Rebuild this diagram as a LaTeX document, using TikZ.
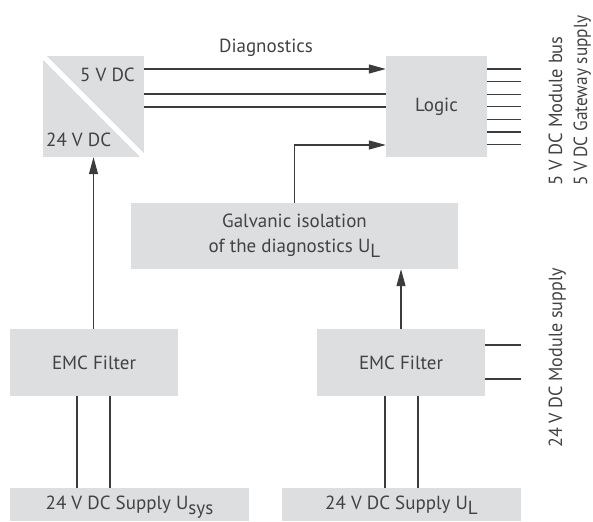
\documentclass[tikz,border=0pt]{standalone}
\usepackage{fontspec}
\setmainfont{PT Sans}
\usetikzlibrary{arrows.meta}
\definecolor{boxgray}{HTML}{DDDEE0}
\definecolor{linegray}{HTML}{3C3C3C}
\definecolor{txtgray}{HTML}{424242}
\newcommand{\lowsub}[1]{\raisebox{-5pt}{#1}}
\begin{document}
\begin{tikzpicture}[x=1pt,y=-1pt,
  blk/.style={fill=boxgray, draw=none, inner sep=0pt, font=\fontsize{19}{25}\selectfont, text=txtgray, align=center},
  wire/.style={draw=linegray, line width=1.1pt},
  arr/.style={wire, -{Triangle[length=17pt,width=9pt]}},
  lbl/.style={font=\fontsize{19}{25}\selectfont, text=txtgray, inner sep=0pt}]
\useasboundingbox (0,0) rectangle (593,521);
% blocks
\node[blk, minimum width=101pt, minimum height=101pt] (conv) at (93.5,106.5) {};
\draw[white, line width=5pt] (conv.north west) -- (conv.south east);
\node[lbl, anchor=base east] (c5) at (135,82) {5 V DC};
\node[lbl, anchor=base west] (c24) at (46,147) {24 V DC};
\node[blk, minimum width=101pt, minimum height=101pt] (logic) at (436.5,106.5) {Logic};
\node[blk, minimum width=327pt, minimum height=66pt] (galv) at (294.5,236) {Galvanic isolation\\of the diagnostics U\lowsub{L}};
\node[blk, minimum width=168pt, minimum height=67pt] (emc1) at (94,362.5) {EMC Filter};
\node[blk, minimum width=168pt, minimum height=67pt] (emc2) at (401,362.5) {EMC Filter};
\node[blk, minimum width=239pt, minimum height=33pt, text depth=0pt] (sup1) at (129.5,504.5) {};
\node[lbl, anchor=base] (sup1t) at (129.5,509) {24 V DC Supply U\lowsub{sys}};
\node[blk, minimum width=239pt, minimum height=33pt] (sup2) at (401.5,504.5) {};
\node[lbl, anchor=base] (sup2t) at (401.5,509) {24 V DC Supply U\lowsub{L}};
% labels
\node[lbl, anchor=base] (diag) at (266,53) {Diagnostics};
\node[lbl, rotate=90, anchor=base west] (mbus) at (562,186) {\scalebox{0.97}[1]{5 V DC Module bus}};
\node[lbl, rotate=90, anchor=base west] (gws) at (587,186) {\scalebox{0.91}[1]{5 V DC Gateway supply}};
\node[lbl, rotate=90, anchor=base west] (msup) at (562,448) {\scalebox{0.95}[1]{24 V DC Module supply}};
% helper coordinates
\coordinate (y1) at (0,69);
\coordinate (y2) at (0,94);
\coordinate (y3) at (0,107);
\coordinate (y4) at (0,145);
\coordinate (y5) at (0,345);
\coordinate (y6) at (0,379);
\coordinate (xr) at (521,0);
% connectors
\draw[arr] (conv.east |- y1) -- (logic.west |- y1);
\draw[wire] (conv.east |- y2) -- (logic.west |- y2);
\draw[wire] (conv.east |- y3) -- (logic.west |- y3);
\draw[arr] (galv.north) |- (logic.west |- y4);
\draw[arr] (emc1.north -| conv.south) -- (conv.south);
\draw[arr] (emc2.north) -- (galv.south -| emc2.north);
\foreach \k in {0,...,6}{
  \coordinate (yk) at (0,{69+12.6*\k});
  \draw[wire] (logic.east |- yk) -- (xr |- yk);
}
\draw[wire] (emc2.east |- y5) -- (xr |- y5);
\draw[wire] (emc2.east |- y6) -- (xr |- y6);
\draw[wire] ([xshift=-17pt]emc1.south) -- ([xshift=-17pt]emc1.south |- sup1.north);
\draw[wire] ([xshift=16pt]emc1.south) -- ([xshift=16pt]emc1.south |- sup1.north);
\draw[wire] ([xshift=-16pt]emc2.south) -- ([xshift=-16pt]emc2.south |- sup2.north);
\draw[wire] ([xshift=17pt]emc2.south) -- ([xshift=17pt]emc2.south |- sup2.north);
\end{tikzpicture}
\end{document}
